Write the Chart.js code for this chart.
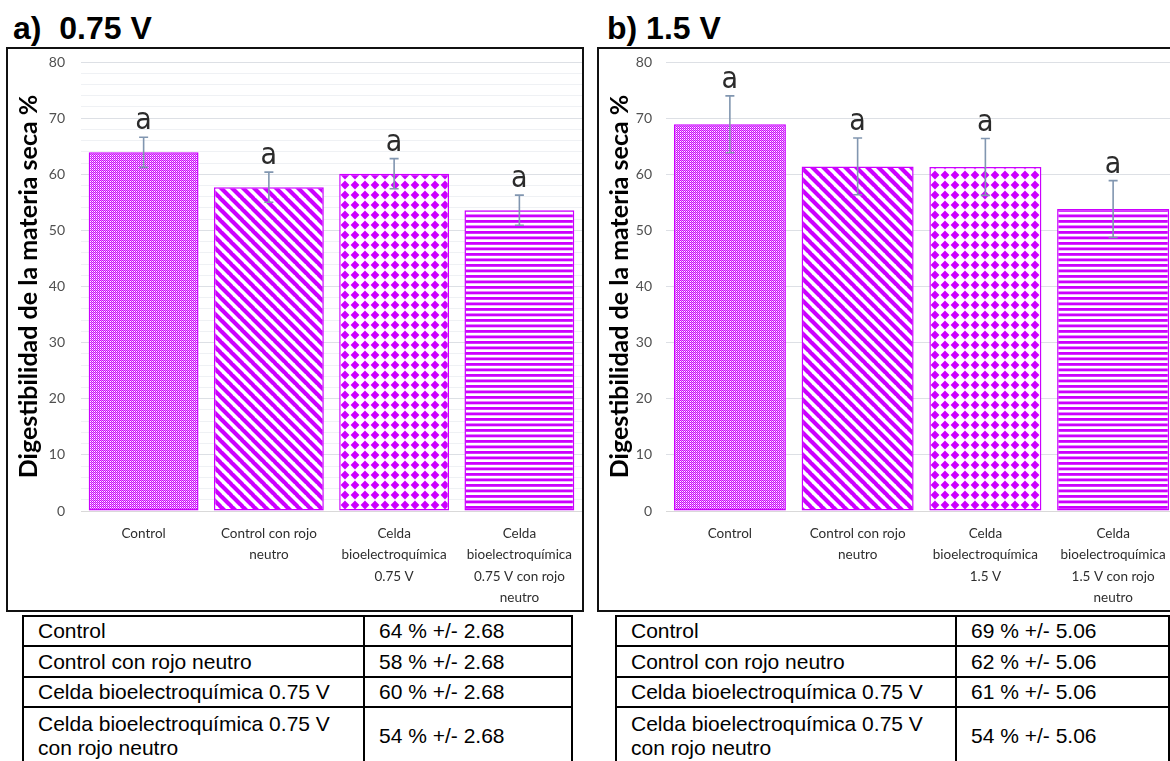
<!DOCTYPE html>
<html>
<head>
<meta charset="utf-8">
<script src="https://cdn.jsdelivr.net/npm/chart.js@4.4.1/dist/chart.umd.min.js"></script>
<style>
  html, body { margin: 0; padding: 0; background: #fff; }
  body { width: 1170px; height: 761px; overflow: hidden; position: relative; font-family: "Liberation Sans", Arial, sans-serif; }
  .title { position: absolute; font: bold 32px/32px "Liberation Sans", Arial, sans-serif; color: #000; white-space: pre; }
  .box { position: absolute; border: 2px solid #111; pointer-events: none; z-index: 2; }
  canvas { position: absolute; top: 0; }
  table { position: absolute; top: 615px; border-collapse: collapse; font-size: 21px; color: #000; table-layout: fixed; }
  td { border: 2px solid #000; padding: 0 0 0 14px; vertical-align: middle; line-height: 24px; }
  tr:nth-child(1) { height: 30px; }
  tr:nth-child(2) { height: 31px; }
  tr:nth-child(3) { height: 30px; }
  tr:nth-child(4) { height: 58px; }
</style>
</head>
<body>
<div class="title" style="left:13px; top:12px;">a)  0.75 V</div>
<div class="title" style="left:607px; top:12px;">b) 1.5 V</div>

<div class="box" style="left:6px; top:47px; width:574px; height:561px;"></div>
<div class="box" style="left:597px; top:47px; width:600px; height:561px;"></div>

<canvas id="chartA" style="left:0px;"></canvas>
<canvas id="chartB" style="left:590px;"></canvas>

<table id="tableA" style="left:22px; width:549px;"><colgroup><col style="width:341px"><col style="width:208px"></colgroup></table>
<table id="tableB" style="left:615px; width:553px;"><colgroup><col style="width:340px"><col style="width:213px"></colgroup></table>

<script>
// datos de la figura
const categoriesA = [
  ["Control"],
  ["Control con rojo", "neutro"],
  ["Celda", "bioelectroquímica", "0.75 V"],
  ["Celda", "bioelectroquímica", "0.75 V con rojo", "neutro"]
];
const categoriesB = [
  ["Control"],
  ["Control con rojo", "neutro"],
  ["Celda", "bioelectroquímica", "1.5 V"],
  ["Celda", "bioelectroquímica", "1.5 V con rojo", "neutro"]
];
const valuesA = [63.9, 57.7, 60.1, 53.6];
const errorsA = [2.68, 2.68, 2.68, 2.68];
const valuesB = [68.9, 61.4, 61.3, 53.8];
const errorsB = [5.06, 5.06, 5.06, 5.06];
const lettersA = ["a", "a", "a", "a"];
const lettersB = ["a", "a", "a", "a"];
const yMin = 0, yMax = 80;
const yTitle = "Digestibilidad de la materia seca %";

// tablas
const tableLabels = [
  "Control",
  "Control con rojo neutro",
  "Celda bioelectroquímica 0.75 V",
  "Celda bioelectroquímica 0.75 V con rojo neutro"
];
const tableMeansA = [64, 58, 60, 54];
const tableMeansB = [69, 62, 61, 54];
const tableErrA = "2.68";
const tableErrB = "5.06";

const MAG = "#cc00ff";

// --- tramas de relleno ---
function tile(w, h, draw) {
  const c = document.createElement("canvas");
  c.width = w; c.height = h;
  const g = c.getContext("2d");
  g.fillStyle = "#fff";
  g.fillRect(0, 0, w, h);
  g.fillStyle = MAG;
  g.strokeStyle = MAG;
  draw(g, w, h);
  return g.createPattern(c, "repeat");
}

function makePatterns() {
  const fine = tile(2, 2, g => { g.fillRect(0, 0, 1, 1); g.fillRect(1, 1, 1, 1); g.fillStyle = "#e58af8"; g.fillRect(1, 0, 1, 1); });
  const diag = tile(11, 11, (g, s) => {
    g.lineWidth = 4.2;
    g.beginPath();
    for (const dx of [-s, 0, s]) { g.moveTo(dx - 1, -1); g.lineTo(dx + s + 1, s + 1); }
    g.stroke();
  });
  const diamonds = tile(10, 10, g => {
    g.beginPath();
    g.moveTo(5, 0.6); g.lineTo(9.4, 5); g.lineTo(5, 9.4); g.lineTo(0.6, 5);
    g.closePath(); g.fill();
  });
  const horiz = tile(4, 11, g => { g.fillRect(0, 0, 4, 2.8); g.fillRect(0, 5.5, 4, 2.8); });
  return [fine, diag, diamonds, horiz];
}

// barras de error y letras de significancia
const errorBars = {
  id: "errorBars",
  afterDatasetsDraw(chart, args, opts) {
    const { ctx } = chart;
    const y = chart.scales.y;
    const meta = chart.getDatasetMeta(0);
    ctx.save();
    meta.data.forEach((bar, i) => {
      const v = opts.values[i], e = opts.errors[i];
      const top = y.getPixelForValue(v + e), bot = y.getPixelForValue(v - e);
      ctx.strokeStyle = "#8196b0";
      ctx.lineWidth = 1.6;
      ctx.beginPath();
      ctx.moveTo(bar.x, top); ctx.lineTo(bar.x, bot);
      ctx.moveTo(bar.x - 4.5, top); ctx.lineTo(bar.x + 4.5, top);
      ctx.moveTo(bar.x - 4.5, bot); ctx.lineTo(bar.x + 4.5, bot);
      ctx.stroke();
      ctx.fillStyle = "#2b2b2b";
      ctx.font = '30px "Liberation Sans Narrow", "DejaVu Sans Condensed", sans-serif';
      ctx.textAlign = "center";
      ctx.textBaseline = "alphabetic";
      ctx.fillText(opts.letters[i], bar.x, top - 8);
    });
    ctx.restore();
  }
};

function makeChart(id, cfg) {
  const cv = document.getElementById(id);
  cv.width = cfg.width; cv.height = 612;
  cv.style.width = cfg.width + "px"; cv.style.height = "612px";
  return new Chart(cv, {
    type: "bar",
    data: {
      labels: cfg.labels,
      datasets: [{
        data: cfg.values,
        backgroundColor: makePatterns(),
        borderColor: MAG,
        borderWidth: 1.5,
        borderSkipped: false,
        barPercentage: 0.877,
        categoryPercentage: 1
      }]
    },
    options: {
      responsive: false,
      animation: false,
      devicePixelRatio: 1,
      layout: { padding: { left: 0, right: cfg.padRight, top: 62, bottom: 0 } },
      plugins: {
        legend: { display: false },
        tooltip: { enabled: false },
        errorBars: { values: cfg.values, errors: cfg.errors, letters: cfg.letters }
      },
      scales: {
        x: {
          afterFit: s => { s.height = 101; },
          grid: { display: false },
          border: { display: true, color: "#d9d9d9", width: 1 },
          ticks: {
            autoSkip: false, maxRotation: 0, minRotation: 0, padding: 4,
            color: "#2e2e2e",
            font: { family: "Lato, sans-serif", size: 13.5, lineHeight: 1.58 }
          }
        },
        y: {
          min: yMin, max: yMax,
          afterFit: s => { s.width = cfg.axisWidth; },
          border: { display: false },
          grid: {
            drawTicks: false,
            color: c => (c.tick && c.tick.value % 10 === 0) ? "#dde0e5" : "#eff1f4",
            lineWidth: 1
          },
          ticks: {
            autoSkip: false,
            stepSize: cfg.step,
            padding: cfg.tickPad,
            color: "#505050",
            font: { family: "Lato, sans-serif", size: 14 },
            callback: v => (v % 10 === 0 ? String(v) : "")
          },
          title: {
            display: true,
            text: yTitle,
            color: "#000",
            font: { family: "Lato, sans-serif", size: 25, weight: "bold" },
            padding: { top: cfg.titlePad, bottom: 0 }
          }
        }
      }
    },
    plugins: [errorBars]
  });
}

makeChart("chartA", {
  width: 585, padRight: 3, axisWidth: 81, tickPad: 16, titlePad: 14, step: 2,
  labels: categoriesA, values: valuesA, errors: errorsA, letters: lettersA
});
makeChart("chartB", {
  width: 600, padRight: 13, axisWidth: 76, tickPad: 14, titlePad: 15, step: 10,
  labels: categoriesB, values: valuesB, errors: errorsB, letters: lettersB
});

function fillTable(id, means, err) {
  const t = document.getElementById(id);
  tableLabels.forEach((lab, i) => {
    const tr = t.insertRow();
    tr.insertCell().textContent = lab;
    tr.insertCell().textContent = means[i] + " % +/- " + err;
  });
}
fillTable("tableA", tableMeansA, tableErrA);
fillTable("tableB", tableMeansB, tableErrB);
</script>
</body>
</html>
